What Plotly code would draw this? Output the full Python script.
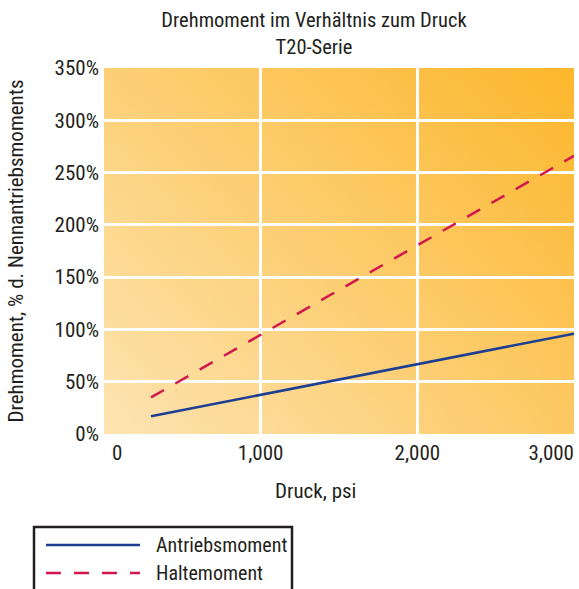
import base64
import struct
import zlib

import plotly.graph_objects as go

# ---------------- data ----------------
pressure_psi = [300, 3000]
antrieb_pct = [17, 96]
halte_pct = [35, 266]

series_names = ["Antriebsmoment", "Haltemoment"]

x_tick_vals = [0, 1000, 2000, 3000]
x_tick_labels = ["0", "1,000", "2,000", "3,000"]
y_tick_vals = [0, 50, 100, 150, 200, 250, 300, 350]
y_tick_labels = ["0%", "50%", "100%", "150%", "200%", "250%", "300%", "350%"]

title_lines = ["Drehmoment im Verhältnis zum Druck", "T20-Serie"]
x_title = "Druck, psi"
y_title = "Drehmoment, % d. Nennantriebsmoments"

# ---------------- style ----------------
FONT = "Liberation Sans Narrow, Arial Narrow, Roboto Condensed, Roboto, sans-serif"
TEXT = "#231f20"
BLUE = "#1c3f94"
RED = "#d2174c"
W, H = 579, 589
ML, MR, MT, MB = 104, 5, 68, 155
PW, PH = W - ML - MR, H - MT - MB


def px_x(sx):
    """pixel x -> paper x"""
    return (sx - ML) / PW


def px_y(sy):
    """pixel y -> paper y"""
    return (H - MB - sy) / PH


# gradient background image (diagonal, light bottom-left -> orange top-right)
def gradient_png(w, h):
    tl, tr = (253, 208, 119), (252, 183, 44)
    bl, br = (253, 228, 178), (253, 201, 100)
    rows = []
    for j in range(h):
        v = j / (h - 1)
        row = bytearray([0])
        for i in range(w):
            u = i / (w - 1)
            for c in range(3):
                top = tl[c] * (1 - u) + tr[c] * u
                bot = bl[c] * (1 - u) + br[c] * u
                row.append(int(round(top * (1 - v) + bot * v)))
        rows.append(bytes(row))
    raw = b"".join(rows)

    def chunk(t, d):
        return struct.pack(">I", len(d)) + t + d + struct.pack(">I", zlib.crc32(t + d) & 0xFFFFFFFF)

    png = (b"\x89PNG\r\n\x1a\n"
           + chunk(b"IHDR", struct.pack(">IIBBBBB", w, h, 8, 2, 0, 0, 0))
           + chunk(b"IDAT", zlib.compress(raw, 9))
           + chunk(b"IEND", b""))
    return "data:image/png;base64," + base64.b64encode(png).decode()


fig = go.Figure()
fig.add_trace(go.Scatter(x=pressure_psi, y=antrieb_pct, mode="lines", name=series_names[0],
                         line=dict(color=BLUE, width=2.5), showlegend=False,
                         xaxis="x3", yaxis="y"))
fig.add_trace(go.Scatter(x=pressure_psi, y=halte_pct, mode="lines", name=series_names[1],
                         line=dict(color=RED, width=2.5, dash="15px,13px"), showlegend=False,
                         xaxis="x2", yaxis="y"))

fig.add_layout_image(dict(source=gradient_png(96, 75), xref="x", yref="y",
                          x=x_tick_vals[0], y=y_tick_vals[-1],
                          sizex=x_tick_vals[-1] - x_tick_vals[0],
                          sizey=y_tick_vals[-1] - y_tick_vals[0],
                          sizing="stretch", layer="below"))

# legend box (drawn manually to get long line samples)
fig.add_shape(type="rect", xref="paper", yref="paper",
              x0=px_x(34), x1=px_x(292), y0=px_y(527), y1=px_y(620),
              line=dict(color=TEXT, width=2.5), fillcolor="white", layer="above")
legend_rows = [(545, BLUE, "solid"), (573, RED, "15px,13px")]
for name, (ry, col, dash) in zip(series_names, legend_rows):
    fig.add_shape(type="line", xref="paper", yref="paper",
                  x0=px_x(46), x1=px_x(140), y0=px_y(ry), y1=px_y(ry),
                  line=dict(color=col, width=2.5, dash=dash), layer="above")
    fig.add_annotation(text=name, xref="paper", yref="paper", x=px_x(154), y=px_y(ry),
                       xanchor="left", yanchor="middle", showarrow=False,
                       font=dict(family=FONT, size=20, color=TEXT))

fig.add_annotation(text=x_title, xref="paper", yref="paper", x=px_x(315), y=px_y(491),
                   xanchor="center", yanchor="middle", showarrow=False,
                   font=dict(family=FONT, size=21, color=TEXT))

tick_font = dict(family=FONT, size=21, color=TEXT)
x_range = [x_tick_vals[0], x_tick_vals[-1]]
common_x = dict(range=x_range, zeroline=False, showline=False, ticks="",
                ticklabelstandoff=4, automargin=False, tickfont=tick_font,
                ticklabeloverflow="allow")

fig.update_layout(
    width=W, height=H,
    margin=dict(l=ML, r=MR, t=MT, b=MB, autoexpand=False),
    paper_bgcolor="white",
    plot_bgcolor="rgba(0,0,0,0)",
    font=dict(family=FONT, size=21, color=TEXT),
    title=dict(text="<br>".join(title_lines), xref="paper", x=px_x(314), xanchor="center",
               yref="container", y=1 - 27 / H, yanchor="middle",
               font=dict(family=FONT, size=20.5, color=TEXT)),
    # middle labels, centred on their gridlines
    xaxis=dict(**common_x, tickvals=x_tick_vals[1:-1], ticktext=x_tick_labels[1:-1],
               showgrid=True, gridcolor="white", gridwidth=2.5),
    # first label, set to the right of its tick
    xaxis2=dict(**common_x, overlaying="x", matches="x", anchor="y", side="bottom",
                tickvals=x_tick_vals[:1], ticktext=x_tick_labels[:1], showgrid=False,
                ticklabelposition="outside right", ticklabelshift=8),
    # last label, set to the left of its tick
    xaxis3=dict(**common_x, overlaying="x", matches="x", anchor="y", side="bottom",
                tickvals=x_tick_vals[-1:], ticktext=x_tick_labels[-1:], showgrid=False,
                ticklabelposition="outside left", ticklabelshift=0),
    yaxis=dict(range=[y_tick_vals[0], y_tick_vals[-1]], tickvals=y_tick_vals, ticktext=y_tick_labels,
               showgrid=True, gridcolor="white", gridwidth=2.5, zeroline=False, showline=False,
               ticks="", ticklabelstandoff=4, automargin=False, tickfont=tick_font,
               title=dict(text=y_title, standoff=25, font=dict(family=FONT, size=21, color=TEXT))),
)

# let the figure fill the window exactly (no default page margin, no scrollbars)
page_css = ("document.body.style.margin='0';"
            "document.body.style.overflow='hidden';"
            "document.documentElement.style.overflow='hidden';")
fig.write_html("out.html", post_script=page_css, config={"displayModeBar": False})
